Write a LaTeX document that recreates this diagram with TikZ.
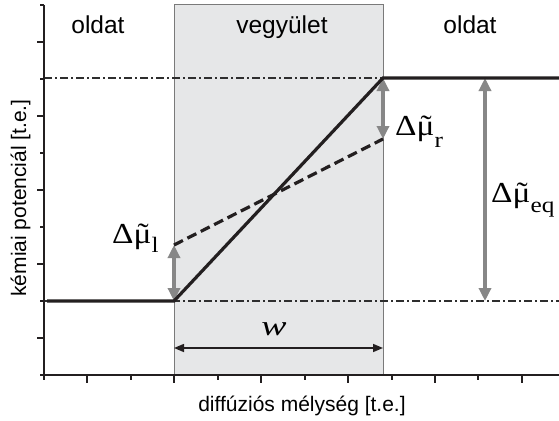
\documentclass[tikz,border=0pt]{standalone}
\usepackage{fontspec}
\setmainfont{Liberation Sans}
\newfontfamily\serifx{Liberation Serif}
\usetikzlibrary{arrows.meta}
\newcommand{\mutl}{\makebox[0pt][l]{\hspace{0.12em}˜}μ}
\definecolor{boxfill}{HTML}{E6E7E8}
\definecolor{boxline}{HTML}{7A7A7A}
\definecolor{arrgray}{HTML}{878787}
\definecolor{axcol}{HTML}{231F20}
\definecolor{dashcol}{HTML}{2E2E2E}
\tikzset{
  axisline/.style={axcol, line width=1.5pt},
  tickline/.style={axcol, line width=1.3pt},
  dashdotline/.style={dashcol, line width=1.3pt, dash pattern=on 8pt off 3pt on 2pt off 3pt},
  thickcurve/.style={axcol, line width=3.2pt},
  dashcurve/.style={axcol, line width=3.2pt, dash pattern=on 10pt off 5pt},
  grayarrow/.style={arrgray, line width=4.5pt, {Triangle[length=13pt,width=12pt]}-{Triangle[length=13pt,width=12pt]}},
  warrow/.style={axcol, line width=1.5pt, {Triangle[length=10pt,width=8pt]}-{Triangle[length=10pt,width=8pt]}},
  toplabel/.style={font=\fontsize{24.5}{26}\selectfont, anchor=base},
  axlabel/.style={font=\fontsize{21}{24}\selectfont, anchor=base},
  mulabel/.style={font=\serifx\fontsize{29}{32}\selectfont, anchor=base west, inner sep=0pt}
}
\newcommand{\subx}[2]{\raisebox{-#1}{\fontsize{22}{24}\selectfont #2}}
\newcommand{\mulab}[2]{\scalebox{1.15}[1]{Δ\mutl\subx{#1}{#2}}}
\begin{document}
\begin{tikzpicture}[x=1pt,y=-1pt]
\useasboundingbox (0,0) rectangle (559,420);
\fill[white] (0,0) rectangle (559,420);
% compound region
\draw[boxline, fill=boxfill, line width=1pt] (174,5) rectangle (383,375);
% coordinates
\coordinate (L0) at (47,301);
\coordinate (A) at (174,301);
\coordinate (B) at (383,78);
\coordinate (R1) at (559,78);
\coordinate (D1) at (174,245);
\coordinate (D2) at (383,139);
\coordinate (E1) at (485,78);
\coordinate (E2) at (485,301);
\coordinate (W1) at (174,348);
\coordinate (W2) at (383,348);
\coordinate (HL1) at (44,78);
\coordinate (HL2) at (559,78);
\coordinate (LL1) at (44,301);
\coordinate (LL2) at (559,301);
% dash-dot reference levels
\draw[dashdotline] (HL1) -- (HL2);
\draw[dashdotline] (LL1) -- (LL2);
% axes
\draw[axisline] (44,5) -- (44,375) -- (559,375);
\foreach \y in {5,79,153,227,301,375} \draw[tickline] (44,\y) -- (40,\y);
\foreach \y in {42,116,190,264,338} \draw[tickline] (44,\y) -- (37,\y);
\foreach \x in {44,131,218,305,392,478} \draw[tickline] (\x,375) -- (\x,380);
\foreach \x in {87,174,261,348,435,522} \draw[tickline] (\x,375) -- (\x,383);
% gray arrows
\draw[grayarrow] (D1) -- (A);
\draw[grayarrow] (B) -- (D2);
\draw[grayarrow] (E1) -- (E2);
% potential profiles
\draw[dashcurve] (D1) -- (D2);
\draw[thickcurve] (L0) -- (A) -- (B) -- (R1);
% width arrow
\draw[warrow] (W1) -- (W2);
\node[font=\serifx\itshape\fontsize{28}{30}\selectfont, anchor=base, inner sep=0pt] (wl) at (274,335) {\scalebox{1.35}[1]{w}};
% labels
\node[toplabel] (t1) at (98,34) {oldat};
\node[toplabel] (t2) at (282,34) {vegyület};
\node[toplabel] (t3) at (470,34) {oldat};
\node[axlabel] (xl) at (302,411) {diffúziós mélység [t.e.]};
\node[axlabel, rotate=90] (yl) at (26,198) {kémiai potenciál [t.e.]};
\node[mulabel] (ml) at (112,243) {\mulab{0.32em}{l}};
\node[mulabel] (mr) at (395,135) {\mulab{0.42em}{r}};
\node[mulabel] (me) at (491,202) {\mulab{0.36em}{eq}};
\end{tikzpicture}
\end{document}
